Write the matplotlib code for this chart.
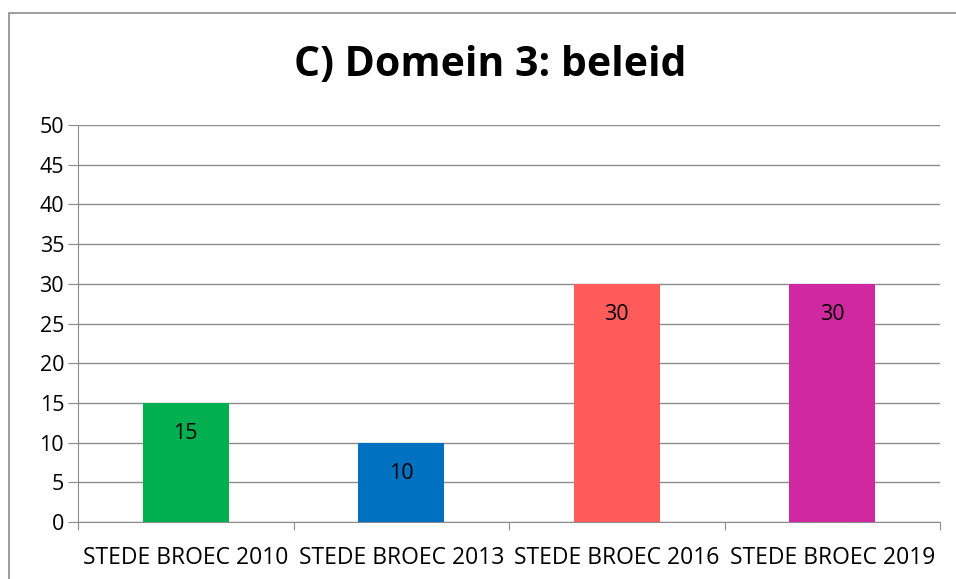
import matplotlib
matplotlib.use("Agg")
import matplotlib.pyplot as plt
from matplotlib.patches import Rectangle

categories = ["STEDE BROEC 2010", "STEDE BROEC 2013", "STEDE BROEC 2016", "STEDE BROEC 2019"]
values = [15, 10, 30, 30]
colors = ["#00B050", "#0070C0", "#FF5B5B", "#CF28A0"]
yticks = [0, 5, 10, 15, 20, 25, 30, 35, 40, 45, 50]
title = "C) Domein 3: beleid"

plt.rcParams['font.family'] = ['Open Sans', 'DejaVu Sans']

fig = plt.figure(figsize=(9.56, 5.79), dpi=100)
W, H = 956, 579
ax = fig.add_axes([78 / W, 1 - 522 / H, (940 - 78) / W, (522 - 125) / H])

x = list(range(len(categories)))
bars = ax.bar(x, values, width=0.4, color=colors, zorder=3)
for xi, v in zip(x, values):
    ax.text(xi, v - 3.9, str(v), ha="center", va="center", fontsize=15.5, color="black", zorder=4)

ax.set_xlim(-0.5, len(categories) - 0.5)
ax.set_ylim(0, 50)
ax.set_yticks(yticks)
ax.set_yticklabels([str(t) for t in yticks], fontsize=15.5)
ax.yaxis.grid(True, color="#8C8C8C", linewidth=1, zorder=0)
ax.set_xticks([i - 0.5 for i in range(len(categories) + 1)])
ax.set_xticklabels([])
ax.set_xticks(x, minor=True)
ax.set_xticklabels(categories, minor=True, fontsize=16.5)
ax.tick_params(axis="x", which="minor", length=0, pad=17)
ax.tick_params(axis="x", which="major", length=6, color="#8C8C8C")
ax.tick_params(axis="y", length=7, color="#8C8C8C", pad=3)
for s in ["top", "right"]:
    ax.spines[s].set_visible(False)
for s in ["left", "bottom"]:
    ax.spines[s].set_color("#8C8C8C")

fig.text(490 / W, 1 - 65 / H, title, ha="center", va="center", fontsize=29.5, fontweight="bold")

fig.patches.append(Rectangle((9 / W, -0.1), 1.2, 1 - 13 / H + 0.1, transform=fig.transFigure,
                             fill=False, edgecolor="#8C8C8C", linewidth=1.2))

fig.savefig("out.png", dpi=100)
